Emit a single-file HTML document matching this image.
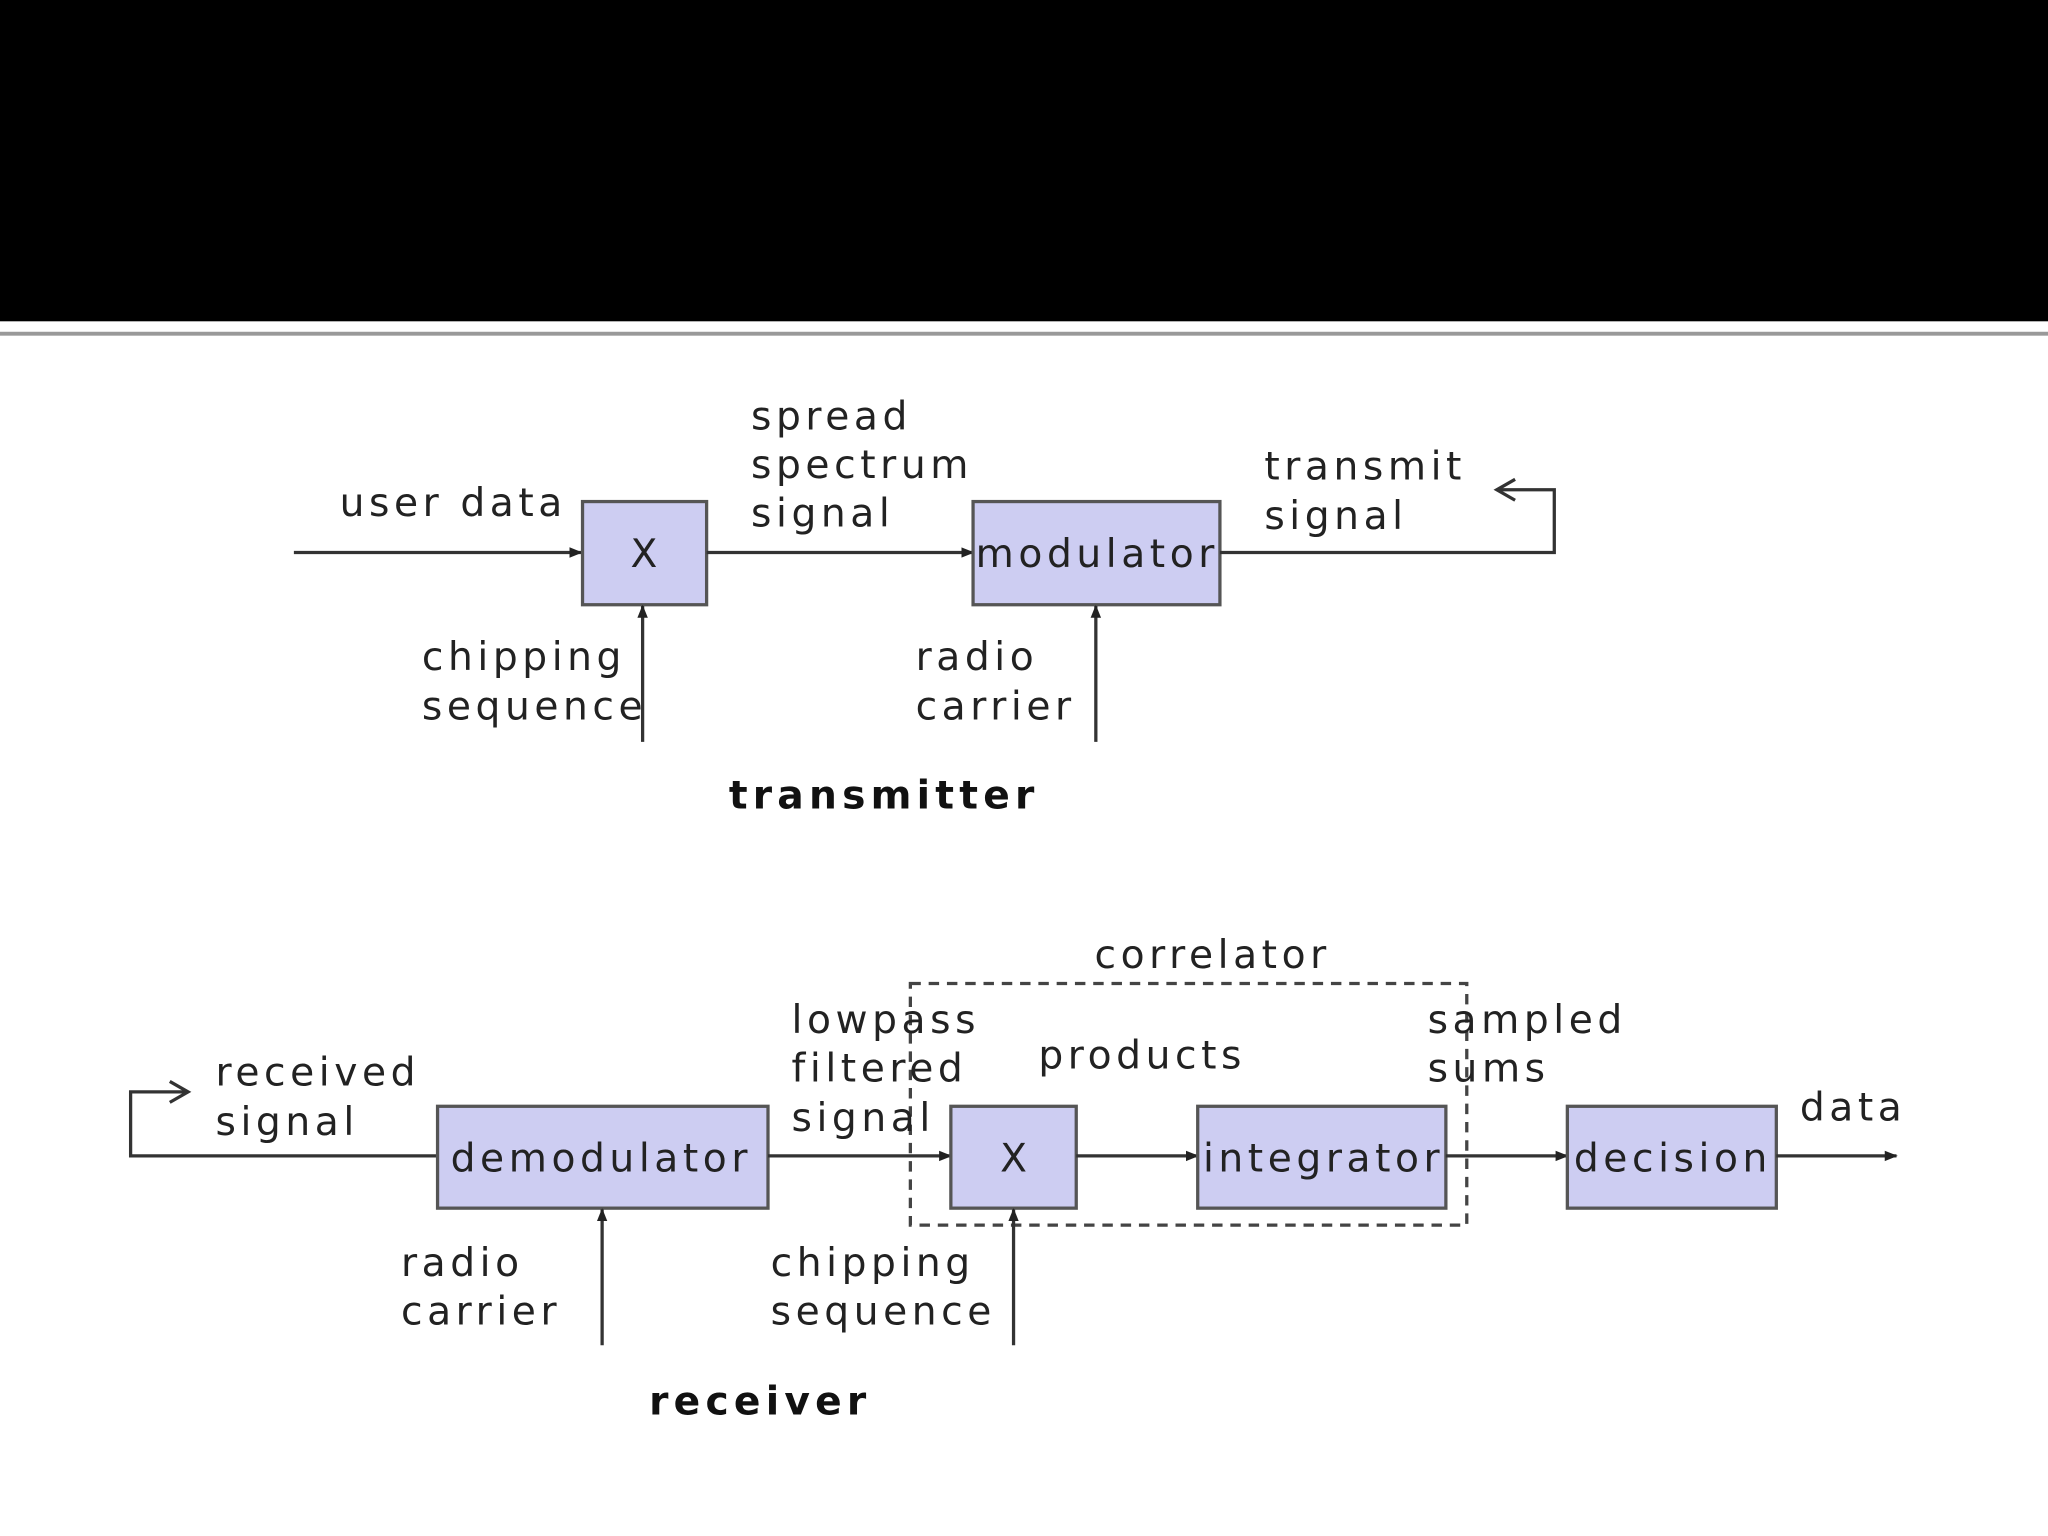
<!DOCTYPE html>
<html><head><meta charset="utf-8"><style>
html,body{margin:0;padding:0;background:#fff;width:2048px;height:1536px;overflow:hidden}
svg{display:block}
text{font-family:"DejaVu Sans","Liberation Sans",sans-serif;font-size:30px;fill:#222;letter-spacing:3.5px}
.b{font-weight:bold;fill:#111;letter-spacing:4px}
.box{fill:#cdcdf2;stroke:#555;stroke-width:2.5}
.ln{stroke:#333;stroke-width:2.5;fill:none}
</style></head><body>
<svg width="2048" height="1536" viewBox="0 0 1568 1176" xmlns="http://www.w3.org/2000/svg">
<defs><marker id="a" markerWidth="10" markerHeight="10" refX="9" refY="5" orient="auto" markerUnits="userSpaceOnUse"><path d="M0,1 L10,5 L0,9 Z" fill="#222"/></marker></defs>
<rect x="0" y="0" width="1568" height="246" fill="#000"/>
<rect x="0" y="254" width="1568" height="3" fill="#999"/>
<!-- transmitter -->
<line class="ln" x1="225" y1="423" x2="445" y2="423" marker-end="url(#a)"/>
<rect class="box" x="446" y="384" width="95" height="79"/>
<text x="493" y="434" text-anchor="middle" style="letter-spacing:0">X</text>
<line class="ln" x1="541" y1="423" x2="745" y2="423" marker-end="url(#a)"/>
<rect class="box" x="745" y="384" width="189" height="79"/>
<text x="747" y="434">modulator</text>
<path class="ln" d="M934,423 H1190 V375 H1146"/>
<path class="ln" d="M1160,367 L1146,375 L1160,383"/>
<line class="ln" x1="492" y1="568" x2="492" y2="464" marker-end="url(#a)"/>
<line class="ln" x1="839" y1="568" x2="839" y2="464" marker-end="url(#a)"/>
<text x="260" y="395">user data</text>
<text x="575" y="329">spread</text><text x="575" y="366">spectrum</text><text x="575" y="403">signal</text>
<text x="968" y="367">transmit</text><text x="968" y="405">signal</text>
<text x="323" y="513">chipping</text><text x="323" y="551">sequence</text>
<text x="701" y="513">radio</text><text x="701" y="551">carrier</text>
<text class="b" x="558" y="619">transmitter</text>
<!-- receiver -->
<path class="ln" d="M335,885 H100 V836 H143"/>
<path class="ln" d="M130,828 L144,836 L130,844"/>
<rect class="box" x="335" y="847" width="253" height="78"/>
<text x="345" y="897">demodulator</text>
<line class="ln" x1="588" y1="885" x2="728" y2="885" marker-end="url(#a)"/>
<rect class="box" x="728" y="847" width="96" height="78"/>
<text x="776" y="897" text-anchor="middle" style="letter-spacing:0">X</text>
<line class="ln" x1="824" y1="885" x2="917" y2="885" marker-end="url(#a)"/>
<rect class="box" x="917" y="847" width="190" height="78"/>
<text x="921" y="897">integrator</text>
<line class="ln" x1="1107" y1="885" x2="1200" y2="885" marker-end="url(#a)"/>
<rect class="box" x="1200" y="847" width="160" height="78"/>
<text x="1205" y="897">decision</text>
<line class="ln" x1="1360" y1="885" x2="1452" y2="885" marker-end="url(#a)"/>
<rect x="697" y="753" width="426" height="185" fill="none" stroke="#444" stroke-width="2.5" stroke-dasharray="8,6"/>
<line class="ln" x1="461" y1="1030" x2="461" y2="926" marker-end="url(#a)"/>
<line class="ln" x1="776" y1="1030" x2="776" y2="926" marker-end="url(#a)"/>
<text x="838" y="741">correlator</text>
<text x="606" y="791">lowpass</text><text x="606" y="828">filtered</text><text x="606" y="866">signal</text>
<text x="795" y="818">products</text>
<text x="1093" y="791">sampled</text><text x="1093" y="828">sums</text>
<text x="165" y="831">received</text><text x="165" y="869">signal</text>
<text x="1378" y="858">data</text>
<text x="307" y="977">radio</text><text x="307" y="1014">carrier</text>
<text x="590" y="977">chipping</text><text x="590" y="1014">sequence</text>
<text class="b" x="497" y="1083">receiver</text>
</svg>
</body></html>
